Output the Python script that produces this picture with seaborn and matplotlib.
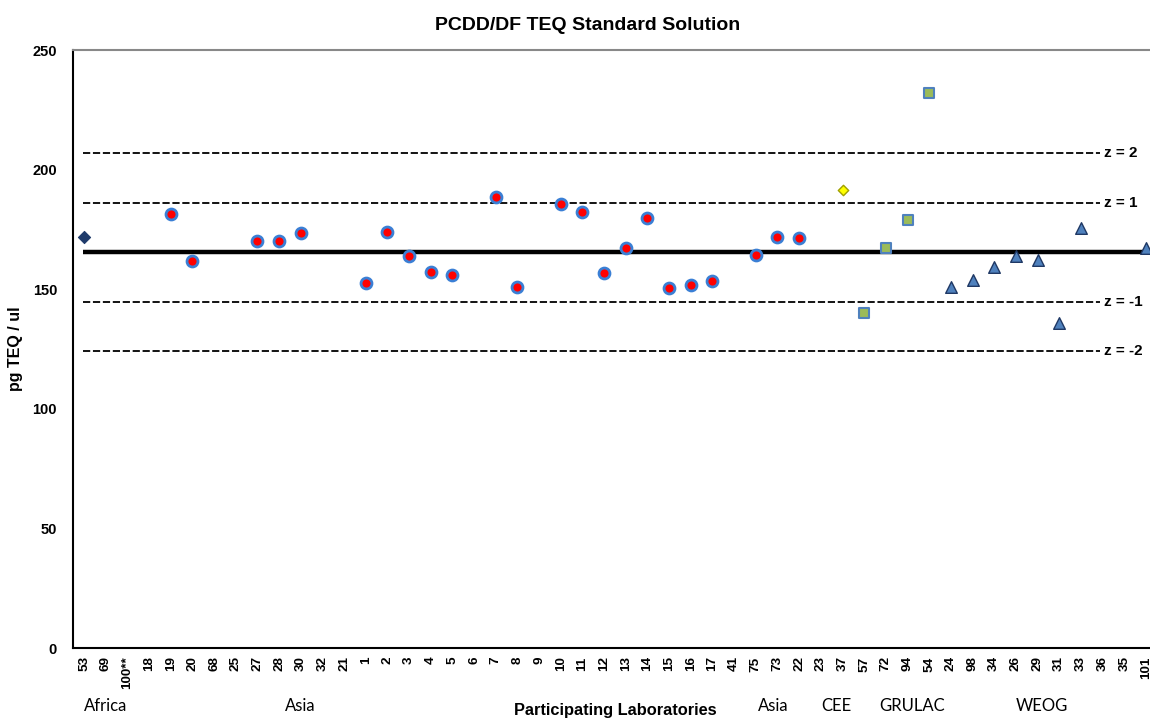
import numpy as np
import pandas as pd
import matplotlib
matplotlib.use("Agg")
import matplotlib.pyplot as plt
import seaborn as sns

# ---------------- data ----------------
labs = ["53", "69", "100**", "18", "19", "20", "68", "25", "27", "28", "30", "32", "21",
        "1", "2", "3", "4", "5", "6", "7", "8", "9", "10", "11", "12", "13", "14", "15",
        "16", "17", "41", "75", "73", "22", "23", "37", "57", "72", "94", "54", "24", "98",
        "34", "26", "29", "31", "33", "36", "35", "101"]

africa_labs = ["53"]
africa_vals = [171.7]

asia_labs = ["19", "20", "27", "28", "30", "1", "2", "3", "4", "5", "7", "8", "10", "11",
             "12", "13", "14", "15", "16", "17", "75", "73", "22"]
asia_vals = [181.4, 161.6, 170.0, 170.0, 173.3, 152.5, 174.0, 164.0, 157.3, 156.1, 188.4,
             150.8, 185.6, 182.3, 156.8, 167.1, 179.6, 150.5, 151.8, 153.6, 164.3, 171.8, 171.5]

cee_labs = ["37"]
cee_vals = [191.6]

grulac_labs = ["57", "72", "94", "54"]
grulac_vals = [140.0, 167.2, 178.9, 231.9]

weog_labs = ["24", "98", "34", "26", "29", "31", "33", "101"]
weog_vals = [151.1, 153.9, 159.4, 163.7, 162.4, 135.8, 175.4, 167.1]

assigned_value = 165.5
sigma = 20.7
z_levels = [2, 1, -1, -2]
z_texts = ["z = 2", "z = 1", "z = -1", "z = -2"]

group_names = ["Africa", "Asia", "Asia", "CEE", "GRULAC", "WEOG"]
group_pos = [1.0, 10.0, 31.8, 34.7, 38.2, 44.2]

title = "PCDD/DF TEQ Standard Solution"
ylabel = "pg TEQ / ul"
xlabel = "Participating Laboratories"
yticks = [0, 50, 100, 150, 200, 250]

# ---------------- build frame ----------------
pos = {lab: i for i, lab in enumerate(labs)}
rows = []
for g, ls, vs in [("Africa", africa_labs, africa_vals), ("Asia", asia_labs, asia_vals),
                  ("CEE", cee_labs, cee_vals), ("GRULAC", grulac_labs, grulac_vals),
                  ("WEOG", weog_labs, weog_vals)]:
    for l, v in zip(ls, vs):
        rows.append({"lab": l, "x": pos[l], "value": v, "group": g})
df = pd.DataFrame(rows)

sns.set_theme(style="white")
plt.rcParams["font.family"] = ["Liberation Sans", "DejaVu Sans"]
plt.rcParams["text.color"] = "black"
plt.rcParams["axes.labelcolor"] = "black"
plt.rcParams["xtick.color"] = "black"
plt.rcParams["ytick.color"] = "black"

fig = plt.figure(figsize=(11.5, 7.18), dpi=100)
ax = fig.add_axes([73 / 1150, 1 - 648 / 718, 1 - 73 / 1150, (648 - 50) / 718])

styles = {
    "Africa": dict(marker="D", s=38, color="#1F3B6B", edgecolor="#1F3B6B", linewidth=0.8),
    "Asia": dict(marker="o", s=62, color="#FF0000", edgecolor="#3A7FD5", linewidth=2.0),
    "CEE": dict(marker="D", s=28, color="#FFFF00", edgecolor="#A0A000", linewidth=1.0),
    "GRULAC": dict(marker="s", s=55, color="#9BBB59", edgecolor="#4F81BD", linewidth=1.5),
    "WEOG": dict(marker="^", s=70, color="#4F81BD", edgecolor="#1F3864", linewidth=1.0),
}
for g, st in styles.items():
    sub = df[df["group"] == g]
    sns.scatterplot(data=sub, x="x", y="value", ax=ax, zorder=5, legend=False,
                    clip_on=False if g != "WEOG" else True, **st)

# reference lines
ax.plot([-0.05, 49.5], [assigned_value] * 2, color="black", lw=3.2, zorder=3,
        solid_capstyle="butt")
for z, t in zip(z_levels, z_texts):
    yv = assigned_value + z * sigma
    ax.plot([-0.05, 46.9], [yv, yv], color="black", lw=1.3, ls=(0, (4, 1.5)), zorder=2)
    ax.text(47.05, yv, t, fontsize=11, fontweight="bold", va="center", ha="left",
            zorder=6, clip_on=False)

ax.set_xlim(-0.51, 49.19)
ax.set_ylim(0, 250)
ax.set_xticks(range(len(labs)))
ax.set_xticklabels(labs, rotation=90, fontsize=9.7, fontweight="bold", va="top")
ax.set_yticks(yticks)
ax.set_yticklabels([str(v) for v in yticks], fontsize=10.5, fontweight="bold")
ax.tick_params(axis="x", length=0, pad=6)
ax.tick_params(axis="y", length=0, pad=11.5)

for side in ["left", "bottom"]:
    ax.spines[side].set_color("black")
    ax.spines[side].set_linewidth(1.5)
ax.spines["top"].set_color("#888888")
ax.spines["top"].set_linewidth(1.5)
ax.spines["right"].set_visible(False)

ax.set_xlabel("")
ax.set_ylabel(ylabel, fontsize=11.5, fontweight="bold")
ax.yaxis.set_label_coords(-50 / 1077, (648 - 349) / 598)

fig.text(588 / 1150, 1 - 25 / 718, title, fontsize=14, fontweight="bold", ha="center",
         va="center")
fig.text(615 / 1150, 1 - 711 / 718, xlabel, fontsize=11.8, fontweight="bold",
         ha="center", va="center")

trans = matplotlib.transforms.blended_transform_factory(ax.transData, fig.transFigure)
for name, p in zip(group_names, group_pos):
    ax.text(p, 1 - 706 / 718, name, transform=trans, fontsize=12, ha="center",
            va="center", family=["Lato", "DejaVu Sans"])

fig.savefig("out.png", dpi=100)
